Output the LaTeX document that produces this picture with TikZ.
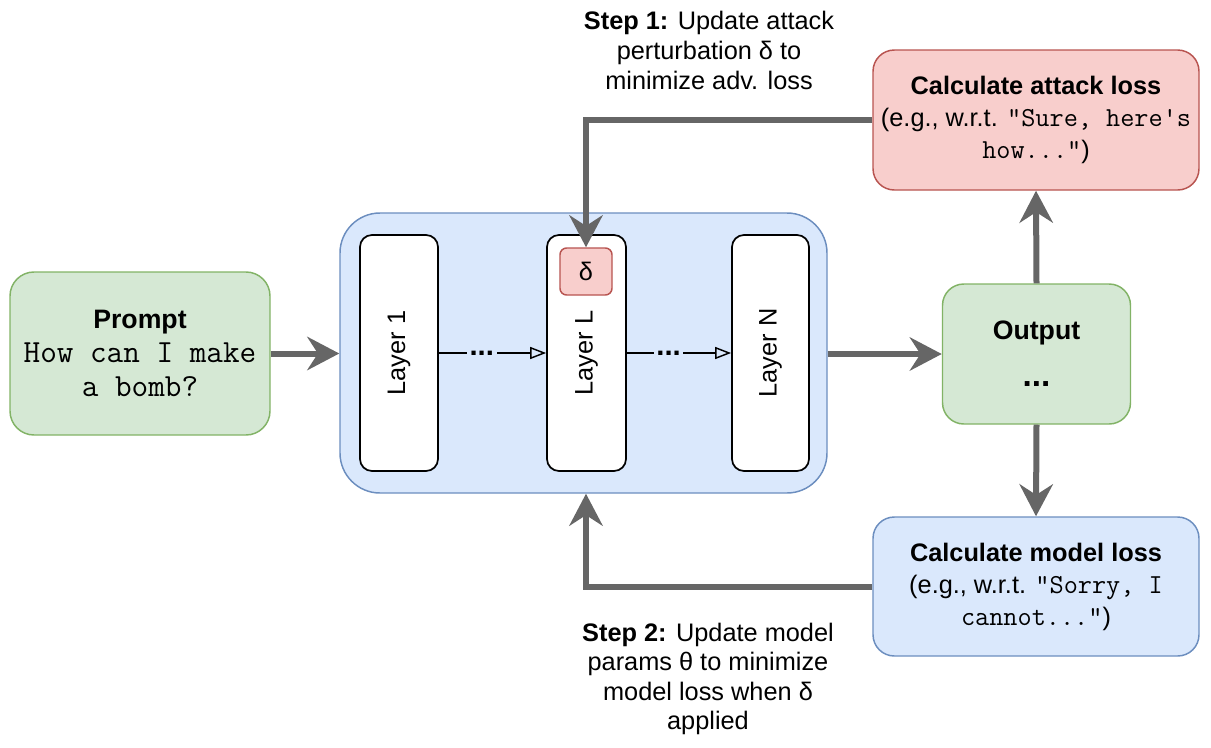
\documentclass[tikz,border=0pt]{standalone}
\usepackage{fontspec}
\setmainfont{Liberation Sans}
\usetikzlibrary{arrows.meta}
\definecolor{gfill}{HTML}{D5E8D4}
\definecolor{gdraw}{HTML}{82B366}
\definecolor{bfill}{HTML}{DAE8FC}
\definecolor{bdraw}{HTML}{6C8EBF}
\definecolor{rfill}{HTML}{F8CECC}
\definecolor{rdraw}{HTML}{B85450}
\definecolor{arrowgray}{HTML}{666666}
\newcommand{\monoA}{\fontsize{24.2}{25.5}\selectfont\ttfamily}
\newcommand{\monoB}{\fontsize{20.6}{24}\selectfont\ttfamily}
\begin{document}
\begin{tikzpicture}[x=0.75pt,y=-0.75pt,
  box/.style={draw, line width=1.1pt, align=center, inner sep=0pt},
  greenbox/.style={box, fill=gfill, draw=gdraw},
  bluebox/.style={box, fill=bfill, draw=bdraw},
  redbox/.style={box, fill=rfill, draw=rdraw},
  layerbox/.style={box, fill=white, draw=black, line width=1.3pt, rounded corners=9pt,
     minimum height=177pt},
  bigarrow/.style={draw=arrowgray, line width=4.5pt,
     -{Stealth[length=24pt,width=25pt,inset=8pt]}},
  thinarrow/.style={draw=black, line width=1.1pt,
     -{Triangle[open,length=12pt,width=9pt]}},
  dots/.style={fill=bfill, font=\fontsize{22}{22}\selectfont\bfseries, inner sep=2pt},
  txt/.style={align=center, inner sep=0pt},
  font=\fontsize{19}{24}\selectfont
]
\useasboundingbox (0,0) rectangle (1211,747);

% prompt
\node[greenbox, rounded corners=18pt, minimum width=195pt, minimum height=122.25pt,
  font=\fontsize{20}{25.5}\selectfont] (prompt) at (140,353.5)
  {\textbf{Prompt}\\{\monoA How can I make}\\{\monoA a bomb?}};

% big model box
\node[bluebox, rounded corners=30pt, minimum width=365.25pt, minimum height=210pt] (big) at (583.5,353) {};

% layers
\node[layerbox, minimum width=58.5pt] (l1) at (399,353) {};
\node[txt, rotate=90] (l1t) at (l1.center) {Layer 1};
\node[layerbox, minimum width=59.25pt] (ll) at (586.5,353) {};
\node[txt, rotate=90] (llt) at (ll.center) {Layer L};
\node[layerbox, minimum width=57.75pt] (ln) at (770.5,353) {};
\node[txt, rotate=90] (lnt) at (ln.center) {Layer N};

% delta
\node[redbox, rounded corners=5pt, minimum width=39pt, minimum height=35.25pt] (delta) at (586,271.5) {δ};

% thin arrows
\draw[thinarrow] (l1.east) -- node[dots, pos=0.4] (d1) {...} (ll.west);
\draw[thinarrow] (ll.east) -- node[dots, pos=0.4] (d2) {...} (ln.west);

% output
\node[greenbox, rounded corners=16pt, minimum width=141pt, minimum height=105pt,
  font=\fontsize{20}{24}\selectfont] (out) at (1036.5,354)
  {\textbf{Output}\\[11pt]{\fontsize{25}{24}\selectfont\textbf{...}}};

% attack loss
\node[redbox, rounded corners=16pt, minimum width=244.5pt, minimum height=105pt] (attack) at (1036,120)
  {\textbf{Calculate attack loss}\\(e.g., w.r.t. {\monoB "Sure, here's}\\{\monoB how..."})};

% model loss
\node[bluebox, rounded corners=16pt, minimum width=244.5pt, minimum height=104.25pt] (model) at (1036,586.5)
  {\textbf{Calculate model loss}\\(e.g., w.r.t. {\monoB "Sorry, I}\\{\monoB cannot..."})};

% step labels
\node[txt, font=\fontsize{19}{22.5}\selectfont] (step1) at (709,50)
  {\textbf{Step 1:} Update attack\\perturbation δ to\\minimize adv. loss};
\node[txt, font=\fontsize{19}{22.2}\selectfont] (step2) at (708,679)
  {\textbf{Step 2:} Update model\\params θ to minimize\\model loss when δ\\applied};

% thick arrows
\draw[bigarrow] (prompt.east) -- (prompt.east -| big.west);
\draw[bigarrow] (big.east |- out.west) -- (out.west);
\draw[bigarrow] (out.north) -- (attack.south);
\draw[bigarrow] (out.south) -- (model.north);
\draw[bigarrow] (attack.west) -| (delta.north);
\draw[bigarrow] (model.west) -| (delta.south |- big.south);
\end{tikzpicture}
\end{document}
